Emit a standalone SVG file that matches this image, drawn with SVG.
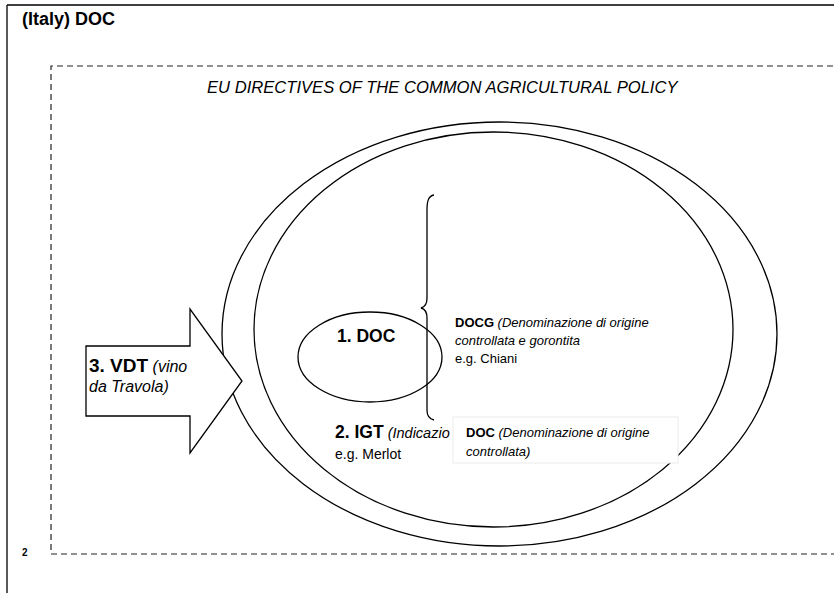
<svg xmlns="http://www.w3.org/2000/svg" width="834" height="593" viewBox="0 0 834 593">
<style>
.ln{fill:none;stroke:#000;stroke-width:1.3}
.dash{fill:none;stroke:#222;stroke-width:1.2;stroke-dasharray:6 4}
.t{font-family:"Liberation Sans",Arial,sans-serif;fill:#000}
.b{font-weight:bold}
.i{font-style:italic}
</style>
<rect width="834" height="593" fill="#fff"/>
<g id="frame">
<path class="ln" d="M7,5 H834 M7,5 V593"/>
<text class="t b" x="22" y="25" font-size="18">(Italy) DOC</text>
<text class="t b" x="22" y="556" font-size="10">2</text>
</g>
<g id="eu">
<path class="dash" d="M833,66 H51 V554 H834"/>
<text class="t i" x="207" y="93" font-size="16.6">EU DIRECTIVES OF THE COMMON AGRICULTURAL POLICY</text>
</g>
<g id="outer-ellipse">
<ellipse class="ln" cx="499.5" cy="334" rx="277.5" ry="212"/>
</g>
<g id="igt">
<ellipse class="ln" cx="493.5" cy="329.5" rx="239.5" ry="197.5"/>
<text class="t" x="335" y="438"><tspan class="b" font-size="17.5">2. IGT</tspan><tspan class="i" font-size="14.5"> (Indicazio</tspan></text>
<text class="t" x="335" y="459" font-size="14">e.g. Merlot</text>
</g>
<g id="doc">
<ellipse class="ln" cx="370" cy="357" rx="72" ry="45"/>
<text class="t b" x="337" y="342" font-size="17.5">1. DOC</text>
</g>
<g id="connectors">
<path class="ln" d="M434,195 C428,196 427,202 427,210 V298 C427,304 425,307 421,308 C425,309 427,312 427,318 V410 C427,416 429,419 434,420"/>
</g>
<g id="docg">
<text class="t" x="455" y="327" font-size="13"><tspan class="b">DOCG</tspan><tspan class="i"> (Denominazione di origine</tspan></text>
<text class="t i" x="455" y="345" font-size="13">controllata e gorontita</text>
<text class="t" x="455" y="363" font-size="13">e.g. Chiani</text>
</g>
<g id="doc-box">
<rect x="453" y="417" width="225" height="46" fill="#fff" stroke="#ebebeb" stroke-width="1"/>
<text class="t" x="466" y="437" font-size="13"><tspan class="b">DOC</tspan><tspan class="i"> (Denominazione di origine</tspan></text>
<text class="t i" x="466" y="456" font-size="13">controllata)</text>
</g>
<g id="vdt">
<polygon points="86,346 190,346 190,309 242,381 190,453 190,416 86,416" fill="#fff" stroke="#000" stroke-width="1.3" stroke-linejoin="miter"/>
<text class="t" x="89" y="372"><tspan class="b" font-size="19">3. VDT</tspan><tspan class="i" font-size="16"> (vino</tspan></text>
<text class="t i" x="89" y="392" font-size="16">da Travola)</text>
</g>
</svg>
